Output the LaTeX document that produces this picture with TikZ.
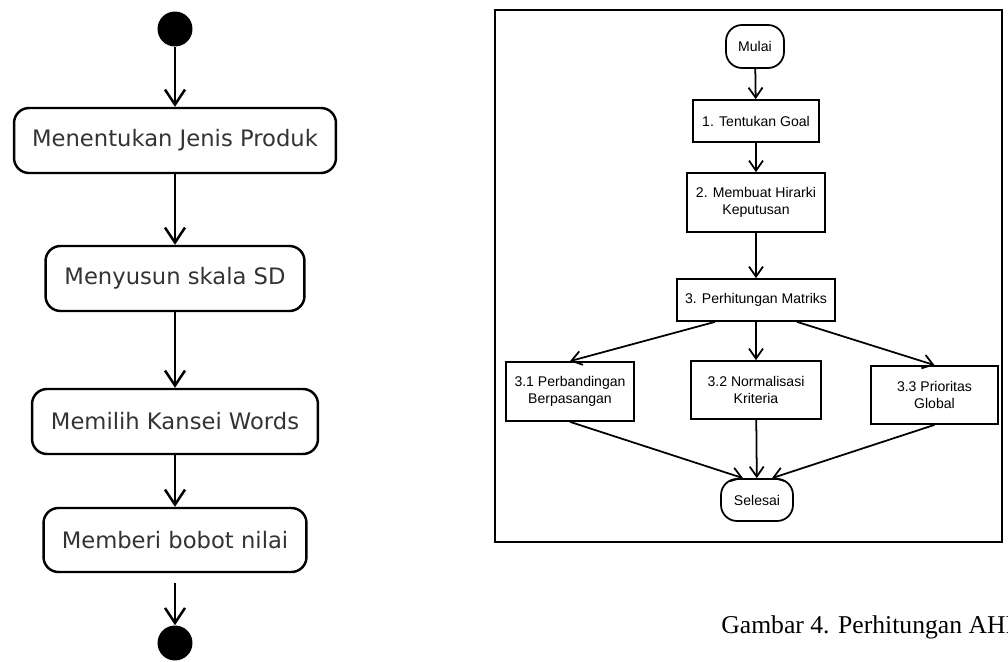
\documentclass[tikz,border=0pt]{standalone}
\usepackage{fontspec}
\setmainfont{DejaVu Sans}
\newfontfamily\boxfont{Liberation Sans}
\newfontfamily\capfont{Liberation Serif}
\usetikzlibrary{arrows.meta}
\tikzset{
  act/.style={draw, line width=1.4pt, rounded corners=0.3cm, minimum height=1.3cm, font=\fontsize{12.9}{15}\selectfont, text=black!80},
  dot/.style={circle, fill=black, minimum size=0.7cm, inner sep=0pt},
  flow/.style={-{Straight Barb[length=0.3cm, width=0.4cm]}, line width=1.4pt},
  stepbox/.style={draw, line width=1pt, align=center, font=\boxfont\fontsize{8}{10}\selectfont},
  term/.style={stepbox, rounded corners=0.32cm, minimum height=0.86cm},
  link/.style={-{Straight Barb[length=0.2cm, width=0.28cm]}, line width=1pt}
}
\begin{document}
\begin{tikzpicture}[x=0.02cm, y=-0.02cm]
            \useasboundingbox (0,0) rectangle (1008,662);
            % left: activity diagram
            \node[dot] (start) at (175,29) {};
            \node[act, minimum width=6.44cm] (jenis) at (175,140.5) {Menentukan Jenis Produk};
            \node[act, minimum width=5.18cm] (skala) at (175,278.5) {Menyusun skala SD};
            \node[act, minimum width=5.72cm] (kansei) at (175,421.5) {Memilih Kansei Words};
            \node[act, minimum width=5.26cm, minimum height=1.28cm] (bobot) at (175,540) {Memberi bobot nilai};
            \node[dot] (stop) at (175,643) {};
            \draw[flow] (start) -- (jenis);
            \draw[flow] (jenis) -- (skala);
            \draw[flow] (skala) -- (kansei);
            \draw[flow] (kansei) -- (bobot);
            \draw[flow, shorten <=0.2cm] (bobot) -- (stop);
            % right: AHP flow
            \draw[line width=1.3pt] (495,10) rectangle (1002,542);
            \node[term, minimum width=1.16cm] (mulai) at (755,46.5) {Mulai};
            \node[stepbox, minimum width=2.52cm, minimum height=0.84cm] (goal) at (756,121) {1. Tentukan Goal};
            \node[stepbox, minimum width=2.76cm, minimum height=1.18cm] (hirarki) at (756,202.5) {2. Membuat Hirarki\\Keputusan};
            \node[stepbox, minimum width=3.16cm, minimum height=0.84cm] (matriks) at (756,300) {3. Perhitungan Matriks};
            \node[stepbox, minimum width=2.56cm, minimum height=1.18cm] (banding) at (570,391.5) {3.1 Perbandingan\\Berpasangan};
            \node[stepbox, minimum width=2.6cm, minimum height=1.16cm] (normal) at (756,390) {3.2 Normalisasi\\Kriteria};
            \node[stepbox, minimum width=2.54cm, minimum height=1.16cm] (global) at (934.5,395) {3.3 Prioritas\\Global};
            \node[term, minimum width=1.44cm, minimum height=0.84cm] (selesai) at (757,500) {Selesai};
            \draw[link] (mulai) -- (goal);
            \draw[link] (goal) -- (hirarki);
            \draw[link] (hirarki) -- (matriks);
            \draw[link] ([xshift=-0.82cm]matriks.south) -- (banding.north);
            \draw[link] (matriks) -- (normal);
            \draw[link] ([xshift=0.82cm]matriks.south) -- (global.north);
            \draw[link] (banding.south) -- ([xshift=-0.28cm]selesai.north);
            \draw[link] (normal) -- (selesai);
            \draw[link] (global.south) -- ([xshift=0.3cm]selesai.north);
            \node[anchor=base west, inner sep=0pt, font=\capfont\fontsize{14.6}{17}\selectfont] (caption) at (721,633) {Gambar 4. Perhitungan AHP};
        \end{tikzpicture}
\end{document}
